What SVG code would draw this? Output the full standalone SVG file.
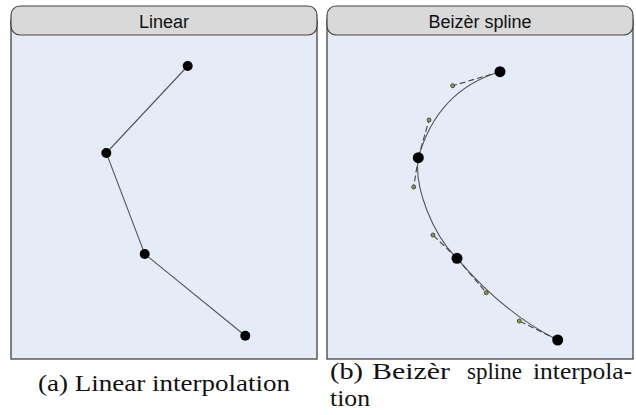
<svg xmlns="http://www.w3.org/2000/svg" width="636" height="415" viewBox="0 0 636 415">
<style>
.body{fill:#e6ecf7;stroke:#333;stroke-width:1.2}
.head{fill:#d9d9d9;stroke:#444;stroke-width:1.2}
.ht{font-family:"Liberation Sans",Arial,sans-serif;font-size:18px;fill:#111;text-anchor:middle}
.cap{font-family:"Liberation Serif","Times New Roman",serif;font-size:23px;fill:#111}
.seg{fill:none;stroke:#555;stroke-width:1.1}
.dash{fill:none;stroke:#444;stroke-width:1.1;stroke-dasharray:6 3}
.pt{fill:#000}
.cp{fill:#8e9a3c;stroke:#333;stroke-width:0.8}
</style>
<g id="panel-linear">
<rect class="body" x="11" y="20" width="306" height="339"/>
<rect class="head" x="11" y="6" width="306" height="29" rx="9"/>
<text class="ht" x="164" y="27.5">Linear</text>
</g>
<g id="panel-spline">
<rect class="body" x="327" y="20" width="306" height="339"/>
<rect class="head" x="327" y="6" width="306" height="29" rx="9"/>
<text class="ht" x="480" y="27.5">Beizèr spline</text>
</g>
<g id="connectors">
<polyline class="seg" points="187.7,66 106.3,153 144.7,254 245.3,335.7"/>
<path class="seg" d="M500,71.7 C452.7,85.7 429,120 418.3,157.7 C413.7,187 433,235 457,258.3 C486.3,292.7 519.3,321 557.7,340"/>
<path class="dash" d="M500,71.7 L452.7,85.7 M418.3,157.7 L429,120 M418.3,157.7 L413.7,187 M457,258.3 L433,235 M457,258.3 L486.3,292.7 M557.7,340 L519.3,321"/>
</g>
<g id="linear-p0"><circle class="pt" cx="187.7" cy="66" r="5"/></g>
<g id="linear-p1"><circle class="pt" cx="106.3" cy="153" r="5"/></g>
<g id="linear-p2"><circle class="pt" cx="144.7" cy="254" r="5"/></g>
<g id="linear-p3"><circle class="pt" cx="245.3" cy="335.7" r="5"/></g>
<g id="spline-p0"><circle class="pt" cx="500" cy="71.7" r="5.5"/></g>
<g id="spline-p1"><circle class="pt" cx="418.3" cy="157.7" r="5.5"/></g>
<g id="spline-p2"><circle class="pt" cx="457" cy="258.3" r="5.5"/></g>
<g id="spline-p3"><circle class="pt" cx="557.7" cy="340" r="5.5"/></g>
<g id="spline-controls">
<circle class="cp" cx="452.7" cy="85.7" r="2"/>
<circle class="cp" cx="429" cy="120" r="2"/>
<circle class="cp" cx="413.7" cy="187" r="2"/>
<circle class="cp" cx="433" cy="235" r="2"/>
<circle class="cp" cx="486.3" cy="292.7" r="2"/>
<circle class="cp" cx="519.3" cy="321" r="2"/>
</g>
<g id="captions">
<text class="cap" x="38" y="391" textLength="252" lengthAdjust="spacingAndGlyphs">(a) Linear interpolation</text>
<text class="cap" x="330" y="379" textLength="33" lengthAdjust="spacingAndGlyphs">(b)</text>
<text class="cap" x="372" y="379" textLength="78" lengthAdjust="spacingAndGlyphs">Beizèr</text>
<text class="cap" x="467" y="379" textLength="55" lengthAdjust="spacingAndGlyphs">spline</text>
<text class="cap" x="533" y="379" textLength="99" lengthAdjust="spacingAndGlyphs">interpola-</text>
<text class="cap" x="330" y="406" textLength="40" lengthAdjust="spacingAndGlyphs">tion</text>
</g>
</svg>
